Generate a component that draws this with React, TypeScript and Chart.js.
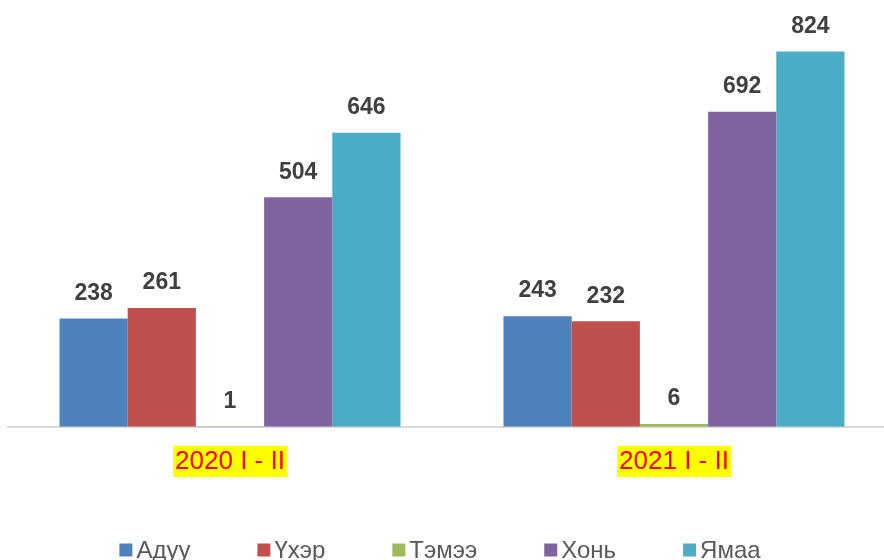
import React, { useEffect, useRef } from "react";
import { Chart, registerables } from "chart.js";

Chart.register(...registerables);

const categories = ["2020 I - II", "2021 I - II"];
const seriesNames = ["Адуу", "Үхэр", "Тэмээ", "Хонь", "Ямаа"];
const aduu = [238, 243];
const ukher = [261, 232];
const temee = [1, 6];
const khoni = [504, 692];
const yamaa = [646, 824];
const seriesValues = [aduu, ukher, temee, khoni, yamaa];
const seriesColors = ["#4F81BD", "#C0504D", "#9BBB59", "#8064A2", "#4BACC6"];

const FONT = '"Liberation Sans", Arial, sans-serif';

const valueLabels = {
  id: "valueLabels",
  afterDatasetsDraw(chart: any) {
    const ctx = chart.ctx;
    ctx.save();
    ctx.font = `bold 23px ${FONT}`;
    ctx.fillStyle = "#404040";
    ctx.textAlign = "center";
    ctx.textBaseline = "middle";
    chart.data.datasets.forEach((ds: any, i: number) => {
      const meta = chart.getDatasetMeta(i);
      meta.data.forEach((el: any, j: number) => {
        ctx.fillText(String(ds.data[j]), el.x, el.y - 25);
      });
    });
    ctx.restore();
  },
};

const bottomLegend = {
  id: "bottomLegend",
  afterDraw(chart: any) {
    const ctx = chart.ctx;
    ctx.save();
    ctx.font = `24px ${FONT}`;
    const box = 13;
    const gapText = 4;
    const gapItem = 67;
    const items = chart.data.datasets.map((ds: any) => ({
      label: ds.label as string,
      color: ds.backgroundColor as string,
    }));
    const widths = items.map((it: any) => ctx.measureText(it.label).width);
    const total =
      widths.reduce((a: number, w: number) => a + box + gapText + w, 0) +
      gapItem * (items.length - 1);
    let x = 440 - total / 2;
    const y = 550;
    ctx.textBaseline = "middle";
    ctx.textAlign = "left";
    items.forEach((it: any, i: number) => {
      ctx.fillStyle = it.color;
      ctx.fillRect(x, y - box / 2, box, box);
      ctx.fillStyle = "#595959";
      ctx.fillText(it.label, x + box + gapText, y + 1);
      x += box + gapText + widths[i] + gapItem;
    });
    ctx.restore();
  },
};

export default function App() {
  const canvasRef = useRef<HTMLCanvasElement | null>(null);

  useEffect(() => {
    if (!canvasRef.current) return;
    const chart = new Chart(canvasRef.current, {
      type: "bar",
      data: {
        labels: categories,
        datasets: seriesNames.map((name, i) => ({
          label: name,
          data: seriesValues[i],
          backgroundColor: seriesColors[i],
          borderWidth: 0,
          categoryPercentage: 0.768,
          barPercentage: 1,
        })),
      },
      options: {
        responsive: false,
        animation: false,
        events: [],
        layout: { padding: { left: 8, right: 4, top: 17, bottom: 64 } },
        plugins: {
          legend: { display: false },
          tooltip: { enabled: false },
          title: { display: false },
        },
        scales: {
          x: {
            grid: { display: false, drawTicks: false },
            border: { display: true, color: "#D9D9D9", width: 2 },
            ticks: {
              color: "#FF0000",
              font: { family: FONT, size: 26 },
              padding: 19,
              showLabelBackdrop: true,
              backdropColor: "#FFFF00",
              backdropPadding: { top: 0, bottom: 0, left: 2, right: 2 },
            },
          },
          y: {
            display: false,
            min: 0,
            max: 900,
          },
        },
      },
      plugins: [valueLabels, bottomLegend],
    });
    return () => chart.destroy();
  }, []);

  return (
    <div
      style={{
        position: "fixed",
        top: 0,
        left: 0,
        width: 884,
        height: 560,
        overflow: "hidden",
        background: "#FFFFFF",
      }}
    >
      <canvas ref={canvasRef} width={900} height={560} style={{ display: "block" }} />
    </div>
  );
}
